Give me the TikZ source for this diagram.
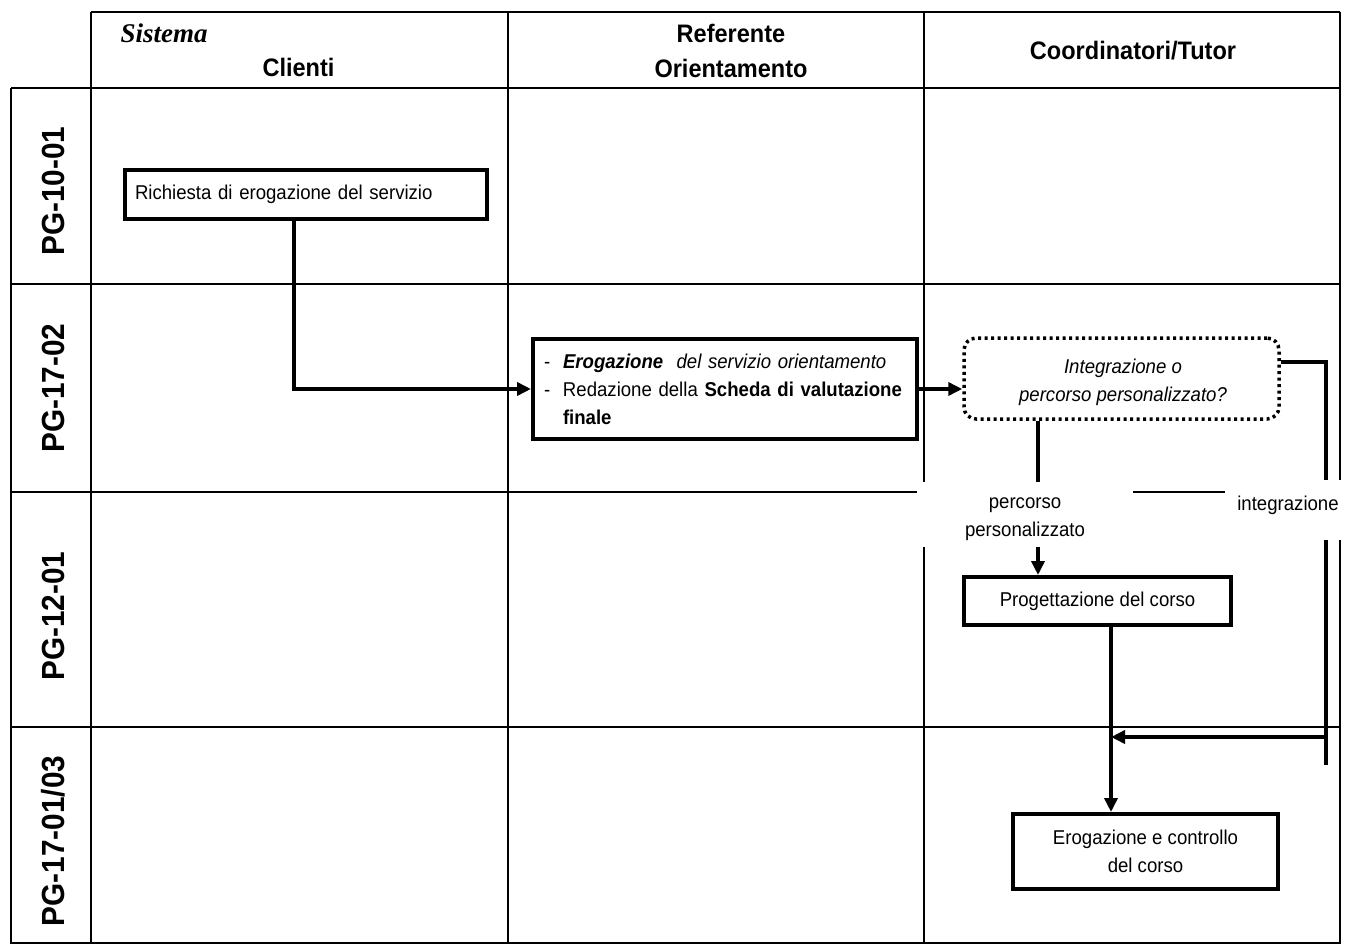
\documentclass[tikz,border=0pt]{standalone}
\usepackage{fontspec}
\setmainfont[FakeStretch=0.93]{Liberation Sans}
\newfontfamily\seriffam{Liberation Serif}
\usetikzlibrary{arrows.meta}
\begin{document}
\begin{tikzpicture}[x=1pt,y=-1pt,
  grid/.style={line width=1.8pt},
  conn/.style={line width=3.5pt},
  arr/.style={conn,-{Triangle[length=14pt,width=13pt]}},
  body/.style={font=\fontsize{20}{28}\selectfont},
  stepbox/.style={draw,line width=4pt,rectangle,inner sep=0pt,body},
  decbox/.style={draw,line width=3.5pt,dash pattern=on 3pt off 3.5pt,rounded corners=12pt,inner sep=0pt},
  head/.style={font=\fontsize{25.3}{35}\selectfont\bfseries,align=center},
  rowlab/.style={font=\fontsize{32}{34}\selectfont\bfseries,rotate=90},
  cover/.style={fill=white,draw=none,inner sep=0pt},
  lab/.style={body,align=center,inner sep=0pt}]
\useasboundingbox (0,0) rectangle (1346,944);
% table grid
\draw[grid] (91,12) -- (1340,12);
\draw[grid] (11,88) -- (1340,88);
\draw[grid] (11,284) -- (1340,284);
\draw[grid] (11,492) -- (1340,492);
\draw[grid] (11,727) -- (1340,727);
\draw[grid] (11,943) -- (1340,943);
\draw[grid] (11,88) -- (11,944);
\draw[grid] (91,12) -- (91,944);
\draw[grid] (508,12) -- (508,944);
\draw[grid] (924,12) -- (924,944);
\draw[grid] (1340,12) -- (1340,944);
% header
\node[anchor=base west,font=\seriffam\fontsize{27}{30}\selectfont\bfseries\itshape] (sis) at (117,43) {Sistema};
\node[head,anchor=base] (cli) at (298.5,77) {Clienti};
\node[head] (ref) at (731,51) {Referente\\Orientamento};
\node[head] (coo) at (1133,51) {Coordinatori/Tutor};
% row labels
\node[rowlab] (r1) at (53,191) {PG-10-01};
\node[rowlab] (r2) at (53,388) {PG-17-02};
\node[rowlab] (r3) at (53,616) {PG-12-01};
\node[rowlab] (r4) at (53,841) {PG-17-01/03};
% boxes
\node[stepbox,minimum width=362pt,minimum height=49pt,text width=342pt,align=left] (rich) at (306,194.5) {Richiesta di erogazione del servizio};
\node[stepbox,minimum width=384pt,minimum height=100pt,text width=362pt,align=left] (box2) at (725,389)
  {\makebox[19pt][l]{-}\textbf{\textit{Erogazione}}\ \ \textit{del servizio orientamento}\\
   \makebox[19pt][l]{-}Redazione della \textbf{Scheda di valutazione}\\
   \hspace*{19pt}\textbf{finale}};
\node[decbox,minimum width=315pt,minimum height=81pt] (dec) at (1121.5,378.5) {};
\node[lab] (dect) at (1123,382) {\textit{Integrazione o}\\\textit{percorso personalizzato?}};
\node[stepbox,minimum width=267pt,minimum height=48pt] (prog) at (1097.5,601) {Progettazione del corso};
\node[stepbox,minimum width=265pt,minimum height=75pt,align=center] (ero) at (1145.5,851.5) {Erogazione e controllo\\del corso};
% connectors
\coordinate (rbot) at (1326,765);
\coordinate (rj) at (1326,737);
\coordinate (d1) at ([xshift=-83.5pt]dec.south);
\coordinate (p1) at ([xshift=13.5pt]prog.south);
\coordinate (mj) at (p1 |- rj);
\draw[arr] ([xshift=-12pt]rich.south) |- (box2.west);
\draw[arr] (box2.east) -- (box2.east -| dec.west);
\draw[conn] ([yshift=16.5pt]dec.east) -| (rbot);
\draw[arr] (rj) -- (mj);
\draw[arr] (d1) -- (d1 |- prog.north);
\draw[arr] (p1) -- (p1 |- ero.north);
% labels on white
\node[cover,minimum width=216pt,minimum height=65pt] (cv1) at (1025,514.5) {};
\node[cover,minimum width=121pt,minimum height=60pt] (cv2) at (1285.5,510) {};
\node[lab] (lp) at (1025,519) {percorso\\personalizzato};
\node[lab] (li) at (1288,505) {integrazione};
\end{tikzpicture}
\end{document}
